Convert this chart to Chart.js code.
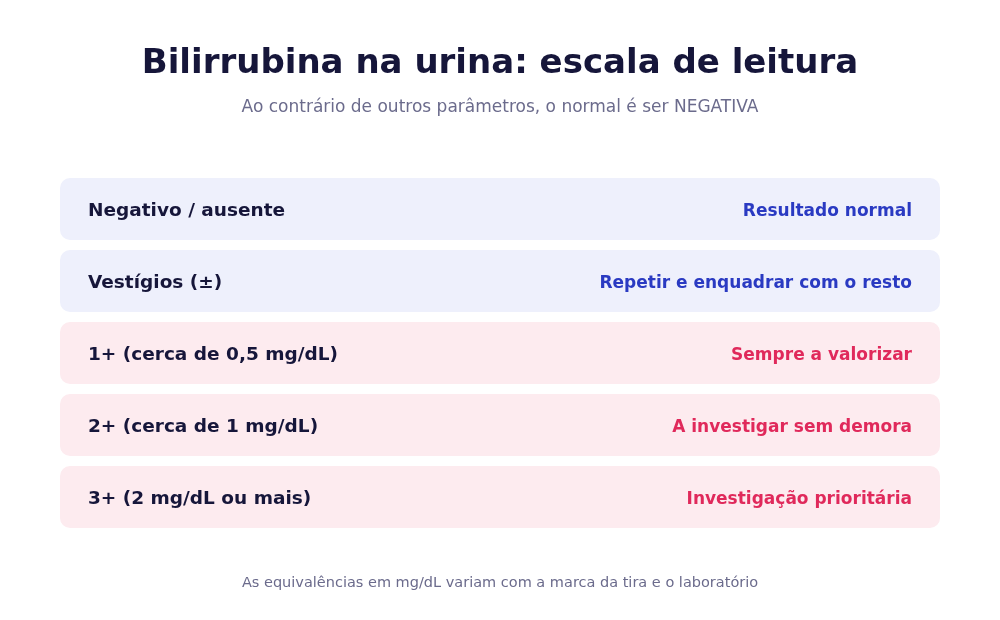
<!DOCTYPE html>
<html lang="pt">
<head>
<meta charset="utf-8">
<title>Bilirrubina na urina</title>
<script src="https://cdn.jsdelivr.net/npm/chart.js@4/dist/chart.umd.min.js"></script>
<style>
  html, body { margin: 0; padding: 0; background: #ffffff; }
  #wrap { width: 1000px; height: 620px; position: relative; }
</style>
</head>
<body>
<div id="wrap"><canvas id="escala"></canvas></div>
<script>
(function () {
  'use strict';

  // Reading scale rows, top to bottom
  const levels = [
    'Negativo / ausente',
    'Vestígios (±)',
    '1+ (cerca de 0,5 mg/dL)',
    '2+ (cerca de 1 mg/dL)',
    '3+ (2 mg/dL ou mais)'
  ];
  const meanings = [
    'Resultado normal',
    'Repetir e enquadrar com o resto',
    'Sempre a valorizar',
    'A investigar sem demora',
    'Investigação prioritária'
  ];
  // 'ok' rows are tinted blue, 'alert' rows pink
  const tones = ['ok', 'ok', 'alert', 'alert', 'alert'];
  const widths = [1, 1, 1, 1, 1];

  const titleText = 'Bilirrubina na urina: escala de leitura';
  const subtitleText = 'Ao contrário de outros parâmetros, o normal é ser NEGATIVA';
  const footerText = 'As equivalências em mg/dL variam com a marca da tira e o laboratório';

  const FONT = '"DejaVu Sans", sans-serif';
  const palette = {
    ok: { fill: '#eef0fc', text: '#2a3ac2' },
    alert: { fill: '#fdebef', text: '#e0295b' }
  };

  // Draws the headings, footnote and the text inside each row
  const textPlugin = {
    id: 'rowText',
    afterDatasetsDraw(chart) {
      const ctx = chart.ctx;
      const area = chart.chartArea;
      const meta = chart.getDatasetMeta(0);

      ctx.save();
      ctx.textBaseline = 'alphabetic';

      meta.data.forEach((bar, i) => {
        ctx.font = 'bold 18.5px ' + FONT;
        ctx.fillStyle = '#16163a';
        ctx.textAlign = 'left';
        ctx.fillText(levels[i], area.left + 28, bar.y + 6.5);

        ctx.font = 'bold 17px ' + FONT;
        ctx.fillStyle = palette[tones[i]].text;
        ctx.textAlign = 'right';
        ctx.fillText(meanings[i], area.right - 28, bar.y + 6.5);
      });

      const cx = chart.width / 2;
      ctx.textAlign = 'center';
      ctx.fillStyle = '#16163a';
      ctx.font = 'bold 34px ' + FONT;
      ctx.fillText(titleText, cx, 72.5);

      ctx.fillStyle = '#6b6b8c';
      ctx.font = '17px ' + FONT;
      ctx.fillText(subtitleText, cx, 111.5);

      ctx.font = '14.5px ' + FONT;
      ctx.fillText(footerText, cx, 587);
      ctx.restore();
    }
  };

  window.onload = function () {
    const ctx = document.getElementById('escala').getContext('2d');

    window.escalaChart = new Chart(ctx, {
      type: 'bar',
      data: {
        labels: levels,
        datasets: [
          {
            data: widths,
            backgroundColor: tones.map((t) => palette[t].fill),
            borderRadius: 10,
            borderSkipped: false,
            barPercentage: 1,
            categoryPercentage: 62 / 72
          }
        ]
      },
      options: {
        indexAxis: 'y',
        responsive: true,
        maintainAspectRatio: false,
        animation: false,
        layout: {
          padding: { top: 173, bottom: 87, left: 60, right: 60 }
        },
        scales: {
          x: { display: false, min: 0, max: 1 },
          y: { display: false }
        },
        plugins: {
          legend: { display: false },
          tooltip: { enabled: false }
        }
      },
      plugins: [textPlugin]
    });
  };

})();
</script>
</body>
</html>
